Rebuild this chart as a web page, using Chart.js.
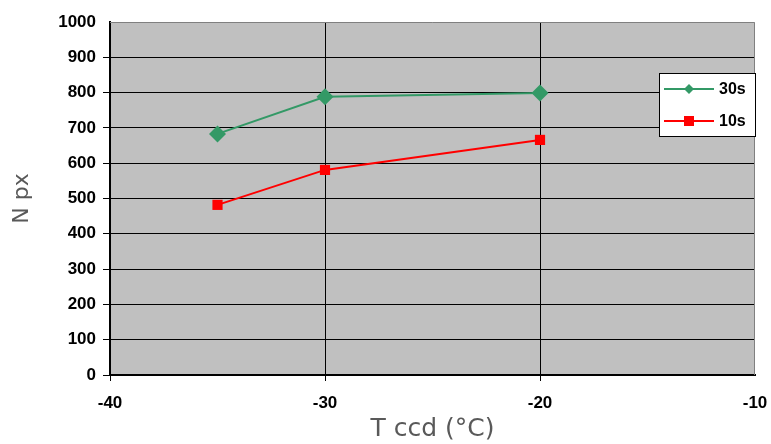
<!DOCTYPE html>
<html>
<head>
<meta charset="utf-8">
<script src="https://cdn.jsdelivr.net/npm/chart.js@4.4.0/dist/chart.umd.min.js"></script>
<style>
  html, body { margin: 0; padding: 0; background: #fff; }
  #wrap { width: 771px; height: 444px; }
</style>
</head>
<body>
<div id="wrap"><canvas id="myChart" width="771" height="444"></canvas></div>
<script>
// data
var tccd = [-35, -30, -20];
var npx30s = [683, 788, 799];
var npx10s = [482, 581, 666];
var seriesNames = ['30s', '10s'];
var seriesColors = ['#339966', '#ff0000'];

function toPoints(xs, ys){
	return xs.map(function(x, i){ return {x: x, y: ys[i]}; });
}

// grey plot background + outline
var plotBack = {
	id: 'plotBack',
	beforeDraw: function(chart){
		var a = chart.chartArea, ctx = chart.ctx;
		ctx.save();
		ctx.fillStyle = '#c0c0c0';
		ctx.fillRect(a.left, a.top, a.right - a.left, a.bottom - a.top);
		ctx.restore();
	},
	afterDatasetsDraw: function(chart){
		var a = chart.chartArea, ctx = chart.ctx;
		ctx.save();
		ctx.strokeStyle = '#808080';
		ctx.lineWidth = 1;
		ctx.beginPath();
		ctx.moveTo(a.left, a.top + 0.5);
		ctx.lineTo(a.right - 0.5, a.top + 0.5);
		ctx.lineTo(a.right - 0.5, a.bottom);
		ctx.stroke();
		ctx.restore();
	}
};

// boxed legend drawn inside the plot, like the original
var boxLegend = {
	id: 'boxLegend',
	afterDraw: function(chart){
		var ctx = chart.ctx;
		var x = 659, y = 73, w = 97, h = 64;
		ctx.save();
		ctx.fillStyle = '#fff';
		ctx.fillRect(x, y, w, h);
		ctx.strokeStyle = '#000';
		ctx.lineWidth = 1;
		ctx.strokeRect(x + 0.5, y + 0.5, w - 1, h - 1);
		var rows = [y + 16, y + 48];
		chart.data.datasets.forEach(function(ds, i){
			var ly = rows[i];
			ctx.strokeStyle = ds.borderColor;
			ctx.lineWidth = 2;
			ctx.beginPath();
			ctx.moveTo(x + 5, ly);
			ctx.lineTo(x + 55, ly);
			ctx.stroke();
			ctx.fillStyle = ds.borderColor;
			if(i == 0){
				ctx.beginPath();
				ctx.moveTo(x + 30, ly - 5);
				ctx.lineTo(x + 35, ly);
				ctx.lineTo(x + 30, ly + 5);
				ctx.lineTo(x + 25, ly);
				ctx.closePath();
				ctx.fill();
			} else {
				ctx.fillRect(x + 25, ly - 5, 10, 10);
			}
			ctx.fillStyle = '#000';
			ctx.font = 'bold 16px "Liberation Sans", Arial, sans-serif';
			ctx.textBaseline = 'middle';
			ctx.fillText(ds.label, x + 60, ly + 1);
		});
		ctx.restore();
	}
};

var tickFont = { family: '"Liberation Sans", Arial, sans-serif', size: 17, weight: 'bold' };

var ctx = document.getElementById('myChart');
var myChart = new Chart(ctx, {
	type: 'line',
	data: {
		datasets: [
			{
				label: seriesNames[0],
				data: toPoints(tccd, npx30s),
				borderColor: seriesColors[0],
				backgroundColor: seriesColors[0],
				borderWidth: 2,
				pointStyle: 'rectRot',
				pointRadius: 8.5,
				pointHoverRadius: 8.5,
				pointBorderWidth: 0
			},
			{
				label: seriesNames[1],
				data: toPoints(tccd, npx10s),
				borderColor: seriesColors[1],
				backgroundColor: seriesColors[1],
				borderWidth: 2,
				pointStyle: 'rect',
				pointRadius: 7.2,
				pointHoverRadius: 7.2,
				pointBorderWidth: 0
			}
		]
	},
	options: {
		responsive: false,
		animation: false,
		layout: { padding: { top: 22, right: 16, left: 0, bottom: 0 } },
		plugins: {
			legend: { display: false },
			tooltip: { enabled: false }
		},
		scales: {
			x: {
				type: 'linear',
				min: -40,
				max: -10,
				ticks: {
					stepSize: 10,
					color: '#000',
					padding: 12,
					font: tickFont
				},
				grid: {
					color: '#000',
					lineWidth: function(c){ return (c.tick && c.tick.value == -10) ? 0 : 1; },
					tickLength: 6,
					tickColor: '#000'
				},
				border: { color: '#000', width: 2 },
				title: {
					display: true,
					text: 'T ccd (°C)',
					color: '#595959',
					padding: { top: 0, bottom: 0 },
					font: { family: '"DejaVu Sans", sans-serif', size: 25 }
				},
				afterFit: function(s){
					s.height = 69;
					s.paddingLeft = 0;
					s.paddingRight = 0;
				}
			},
			y: {
				min: 0,
				max: 1000,
				ticks: {
					stepSize: 100,
					color: '#000',
					padding: 7,
					font: tickFont,
					callback: function(v){ return String(v); }
				},
				grid: {
					color: '#000',
					lineWidth: function(c){ return (c.tick && c.tick.value == 1000) ? 0 : 1; },
					tickLength: 7,
					tickColor: '#000'
				},
				border: { color: '#000', width: 2 },
				title: {
					display: true,
					text: 'N px',
					color: '#595959',
					padding: { top: 9, bottom: 0 },
					font: { family: '"DejaVu Sans", sans-serif', size: 22 }
				},
				afterFit: function(s){
					s.width = 110;
					s.paddingTop = 0;
					s.paddingBottom = 0;
				}
			}
		}
	},
	plugins: [plotBack, boxLegend]
});
</script>
</body>
</html>
